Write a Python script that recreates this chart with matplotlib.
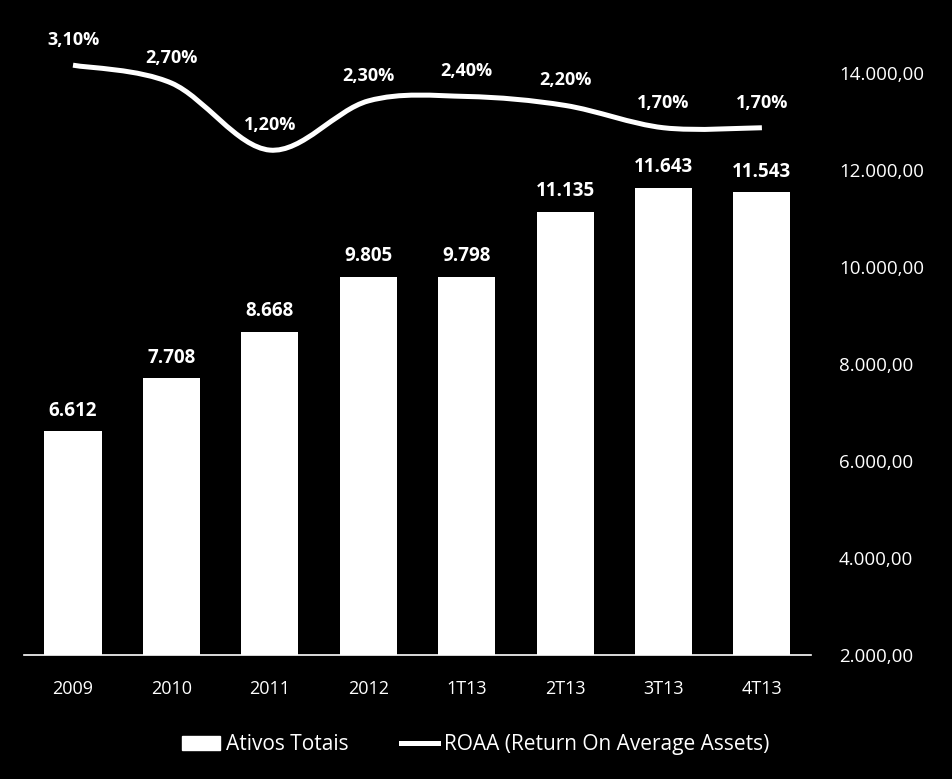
import matplotlib.pyplot as plt
from matplotlib.path import Path
from matplotlib.patches import PathPatch
from matplotlib.lines import Line2D
from matplotlib.patches import Patch
import matplotlib.ticker as mticker

plt.rcParams['font.family'] = ['Open Sans', 'DejaVu Sans']

categories = ['2009', '2010', '2011', '2012', '1T13', '2T13', '3T13', '4T13']
ativos = [6612, 7708, 8668, 9805, 9798, 11135, 11643, 11543]
roaa = [3.10, 2.70, 1.20, 2.30, 2.40, 2.20, 1.70, 1.70]
y_ticks = [2000, 4000, 6000, 8000, 10000, 12000, 14000]


def br_num(v, decimals=0):
    s = f"{v:,.{decimals}f}"
    return s.replace(',', '#').replace('.', ',').replace('#', '.')


def smooth_path(xs, ys):
    # Excel style smoothed line: cubic bezier with catmull-rom control points
    verts = [(xs[0], ys[0])]
    codes = [Path.MOVETO]
    n = len(xs)
    for i in range(n - 1):
        x0, y0 = (xs[i - 1], ys[i - 1]) if i > 0 else (xs[i], ys[i])
        x1, y1 = xs[i], ys[i]
        x2, y2 = xs[i + 1], ys[i + 1]
        x3, y3 = (xs[i + 2], ys[i + 2]) if i + 2 < n else (x2, y2)
        c1 = (x1 + (x2 - x0) / 6, y1 + (y2 - y0) / 6)
        c2 = (x2 - (x3 - x1) / 6, y2 - (y3 - y1) / 6)
        verts += [c1, c2, (x2, y2)]
        codes += [Path.CURVE4] * 3
    return Path(verts, codes)


fig = plt.figure(figsize=(9.52, 7.79), dpi=100, facecolor='black')
ax = fig.add_axes([0.025, 0.159, 0.827, 0.747], facecolor='black')
ax2 = ax.twinx()
x = list(range(len(categories)))

ax.bar(x, ativos, width=0.58, color='white', bottom=0)
ax.set_ylim(2000, 14000)
ax.set_xlim(-0.5, len(categories) - 0.5)

for xi, v in zip(x, ativos):
    ax.annotate(br_num(v), (xi, v), xytext=(0, 15), textcoords='offset points',
                ha='center', va='center', color='white', fontsize=13.5, fontweight='bold')

# right hand axis labels (set after twinx, which moves ticks back left)
ax.yaxis.tick_right()
ax.set_yticks(y_ticks)
ax.yaxis.set_major_formatter(mticker.FuncFormatter(lambda v, p: br_num(v, 2)))
ax.tick_params(axis='y', length=0, pad=20, colors='white', labelsize=13.5)
ax.set_xticks(x)
ax.set_xticklabels(categories)
ax.tick_params(axis='x', length=0, pad=18, colors='white', labelsize=13)

for s in ['left', 'right', 'top']:
    ax.spines[s].set_visible(False)
ax.spines['bottom'].set_color('white')
ax.spines['bottom'].set_linewidth(1.2)

ax2.set_ylim(-10.1, 2.92)
ax2.axis('off')
path = smooth_path(x, roaa)
ax2.add_patch(PathPatch(path, facecolor='none', edgecolor='white', lw=3.6,
                        capstyle='butt', clip_on=False))
for xi, v in zip(x, roaa):
    ax2.annotate(f"{v:.2f}%".replace('.', ','), (xi, v), xytext=(0, 18),
                 textcoords='offset points', ha='center', va='center',
                 color='white', fontsize=13, fontweight='bold', annotation_clip=False)

handles = [Patch(facecolor='white', edgecolor='white'),
           Line2D([0], [0], color='white', lw=3.6)]
leg = fig.legend(handles, ['Ativos Totais', 'ROAA (Return On Average Assets)'],
                 loc='center', bbox_to_anchor=(0.5, 0.044), ncol=2, frameon=False,
                 fontsize=15, handlelength=1.8, handleheight=0.7, columnspacing=2.5,
                 handletextpad=0.3)
for t in leg.get_texts():
    t.set_color('white')

fig.savefig('out.png', dpi=100, facecolor='black')
